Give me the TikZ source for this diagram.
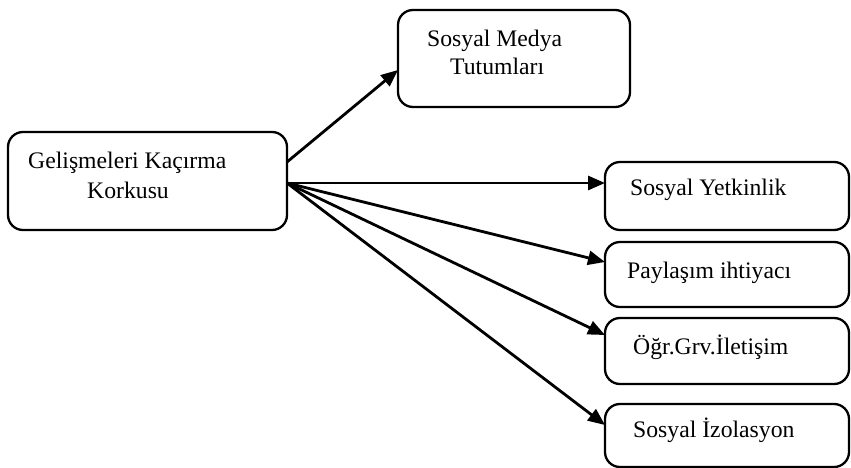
\documentclass[tikz,border=0pt]{standalone}
\usepackage{fontspec}
\setmainfont{Liberation Serif}
\usetikzlibrary{arrows.meta}
\begin{document}
\begin{tikzpicture}[x=1pt,y=-1pt,
  box/.style={draw,line width=2.3pt,rounded corners=15pt,inner sep=0pt,outer sep=0pt},
  lbl/.style={inner sep=0pt,anchor=base west,font=\fontsize{23.7}{28}\selectfont},
  conn/.style={line width=2.8pt,-{Triangle[length=17pt,width=14pt]}}]
\useasboundingbox (0,0) rectangle (851,468);
\node[box,minimum width=279pt,minimum height=98pt] (src) at (147.5,181) {};
\node[box,minimum width=232pt,minimum height=97pt] (smt) at (514,58.5) {};
\node[box,minimum width=244pt,minimum height=68pt] (sy) at (727,196) {};
\node[box,minimum width=244pt,minimum height=65pt] (pi) at (727,274.5) {};
\node[box,minimum width=244pt,minimum height=66pt] (og) at (727,351) {};
\node[box,minimum width=244pt,minimum height=63pt] (si) at (727,435.5) {};
\node[lbl] (t1) at (28,168) {Gelişmeleri Kaçırma};
\node[lbl] (t2) at (87,198) {Korkusu};
\node[lbl] (t3) at (427,47) {Sosyal Medya};
\node[lbl] (t4) at (450,75) {Tutumları};
\node[lbl] (t5) at (630,195) {Sosyal Yetkinlik};
\node[lbl] (t6) at (627,278) {Paylaşım ihtiyacı};
\node[lbl] (t7) at (633,354) {Öğr.Grv.İletişim};
\node[lbl] (t8) at (633,437) {Sosyal İzolasyon};
\coordinate (a0) at ([yshift=19pt]src.east);
\coordinate (b0) at ([yshift=-2pt]src.east);
\draw[conn] (a0) -- ([yshift=-11.5pt]smt.west);
\draw[conn] (b0) -- ([yshift=13pt]sy.west);
\draw[conn] (b0) -- ([yshift=12.5pt]pi.west);
\draw[conn] (b0) -- ([yshift=16pt]og.west);
\draw[conn] (b0) -- ([yshift=10.5pt]si.west);
\end{tikzpicture}
\end{document}
